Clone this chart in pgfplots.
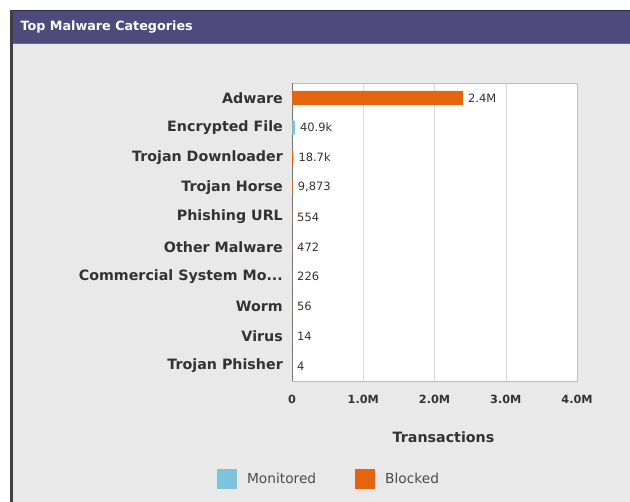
\documentclass[border=0pt]{standalone}
\usepackage{fontspec}
\setmainfont{DejaVu Sans}
\usepackage{pgfplots}
\pgfplotsset{compat=1.18}

\definecolor{panelgray}{HTML}{E9E9E9}
\definecolor{titlebar}{HTML}{4E4A7C}
\definecolor{titleedge}{HTML}{2E2B4C}
\definecolor{blocked}{HTML}{E5640F}
\definecolor{monitored}{HTML}{7CC3DB}
\definecolor{labelgray}{HTML}{333333}
\definecolor{gridgray}{HTML}{DADADA}
\definecolor{boxgray}{HTML}{BDBDBD}

\newcommand{\catfont}{\fontsize{14.3}{17}\bfseries\selectfont}
\newcommand{\tickfont}{\fontsize{11.3}{13}\bfseries\selectfont}
\newcommand{\valfont}{\fontsize{11.5}{13}\selectfont}
\newcommand{\legfont}{\fontsize{13.8}{16}\selectfont}
\newcommand{\dotsthree}{.{}.{}.}

\begin{document}
\begin{tikzpicture}
  % page and panel
  \useasboundingbox (0,0) rectangle (630bp,502bp);
  \fill[white] (0,0) rectangle (630bp,502bp);
  \fill[panelgray] (10bp,0) rectangle (630bp,458bp);
  \fill[titlebar] (10bp,458bp) rectangle (630bp,492bp);
  \draw[titleedge, line width=1.5bp] (10bp,491.5bp) -- (630bp,491.5bp);
  \draw[titleedge!70, line width=1bp] (10bp,458bp) -- (630bp,458bp);
  \fill[black!75] (10bp,0) rectangle (12.5bp,492bp);
  \node[anchor=west, text=white, font=\fontsize{12.8}{15}\bfseries\selectfont]
    at (17bp,475bp) {Top Malware Categories};

  \begin{axis}[
    at={(292bp,121bp)}, anchor=south west,
    scale only axis, width=285bp, height=298bp,
    xmin=0, xmax=4000000,
    ymin=-0.5, ymax=9.5, y dir=reverse,
    axis background/.style={fill=white},
    axis line style={draw=boxgray},
    xtick={0,1000000,2000000,3000000,4000000},
    xticklabels={0,1.0M,2.0M,3.0M,4.0M},
    scaled x ticks=false,
    xmajorgrids, grid style={gridgray},
    major tick length=0pt,
    ytick={0,1,2,3,4,5,6,7,8,9},
    yticklabels={Adware,Encrypted File,Trojan Downloader,Trojan Horse,Phishing URL,Other Malware,{Commercial System Mo\dotsthree},Worm,Virus,Trojan Phisher},
    /pgf/number format/assume math mode=true,
    yticklabel style={anchor=east, inner sep=0pt, xshift=-9bp, font=\catfont, text=labelgray},
    xticklabel style={anchor=north, inner sep=0pt, yshift=-14bp, font=\tickfont, text=labelgray},
    xlabel={Transactions},
    every axis x label/.style={at={(axis description cs:0.5,0)}, anchor=center, xshift=9bp, yshift=-56bp, font=\catfont, text=labelgray},
    legend columns=2,
    legend style={at={(axis description cs:0.13,-0.329)}, anchor=center, draw=none, fill=none,
      font=\legfont, text=black!70, inner sep=0pt,
      /tikz/every odd column/.append style={column sep=8bp},
      /tikz/every even column/.append style={column sep=37bp}},
  ]
    % left axis line
    \draw[black!55, line width=0.9bp] (axis description cs:0,0) -- (axis description cs:0,1);

    \addplot[xbar, bar width=14bp, bar shift=0pt, fill=monitored, draw=none,
      legend image code/.code={\fill[monitored] (0bp,-10bp) rectangle (20bp,10bp);}]
      table[x=v, y=i] {
        i v
        0 0
        1 40900
        2 0
        3 0
        4 0
        5 0
        6 0
        7 0
        8 0
        9 0
      };
    \addlegendentry{Monitored}

    \addplot[xbar, bar width=14bp, bar shift=0pt, fill=blocked, draw=none,
      legend image code/.code={\fill[blocked] (0bp,-10bp) rectangle (20bp,10bp);}]
      table[x=v, y=i] {
        i v
        0 2400000
        1 0
        2 18700
        3 9873
        4 554
        5 472
        6 226
        7 56
        8 14
        9 4
      };
    \addlegendentry{Blocked}

    % totals written beside the bars
    \addplot[draw=none, mark=none, forget plot,
      nodes near coords, point meta=explicit symbolic,
      nodes near coords style={anchor=west, xshift=5bp, inner sep=0pt, font=\valfont, text=labelgray}]
      table[x=v, y=i, meta=t] {
        i v t
        0 2400000 2.4M
        1 40900 40.9k
        2 18700 18.7k
        3 9873 9,873
        4 554 554
        5 472 472
        6 226 226
        7 56 56
        8 14 14
        9 4 4
      };
  \end{axis}
\end{tikzpicture}
\end{document}
